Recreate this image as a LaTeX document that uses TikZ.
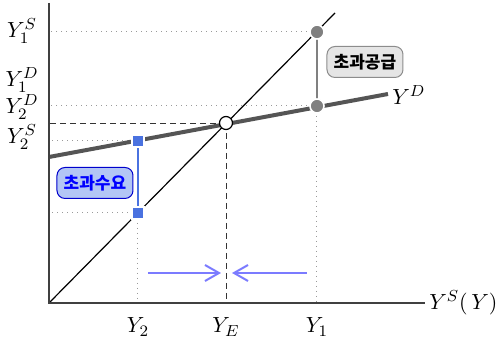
\documentclass[tikz,border=0pt]{standalone}
\usepackage{fontspec}
\newfontfamily\krfont{Noto Sans CJK KR}
\usetikzlibrary{arrows.meta}
\definecolor{curvegray}{HTML}{555555}
\definecolor{dotgray}{HTML}{808080}
\definecolor{sqblue}{HTML}{4A72E0}
\definecolor{boxblue}{HTML}{B3C6F5}
\definecolor{arrblue}{HTML}{7B7BFF}
\tikzset{
  lab/.style={font=\fontsize{11}{13}\selectfont, inner sep=0pt},
  guide/.style={dotgray!80, dotted, line width=0.5pt},
  eqguide/.style={black!80, dashed, line width=0.4pt, dash pattern=on 3pt off 2pt},
  grayball/.style={circle, fill=dotgray, draw=white, line width=0.8pt, minimum size=7pt, inner sep=0pt},
  bluesq/.style={rectangle, fill=sqblue, draw=white, line width=0.6pt, minimum size=6pt, inner sep=0pt},
  tag/.style={rounded corners=4pt, line width=0.5pt, minimum width=38pt, minimum height=15.5pt,
    font=\krfont\bfseries\fontsize{8.5}{10}\selectfont},
  move/.style={arrblue, line width=1pt, -{Straight Barb[length=7pt,width=8pt]}}
}
\begin{document}
\begin{tikzpicture}[x=0.5pt,y=-0.5pt]
\useasboundingbox (0,0) rectangle (500,346);
% axes
\coordinate (O) at (49,303);
\coordinate (ytop) at (49,3);
\coordinate (xend) at (425,303);
% points
\coordinate (Dtop) at (335,13);
\coordinate (Dl) at (49,157);
\coordinate (Dr) at (388,94);
\coordinate (E) at (226,123);
\coordinate (A1) at (317,32);
\coordinate (B1) at (317,106);
\coordinate (A2) at (138,141);
\coordinate (B2) at (138,213);
% guides
\draw[guide] (A1) -- (A1 -| O);
\draw[guide] (B1) -- (B1 -| O);
\draw[guide] (A2) -- (A2 -| O);
\draw[guide] (B2) -- (B2 -| O);
\draw[guide] (B1) -- (B1 |- O);
\draw[guide] (B2) -- (B2 |- O);
\draw[eqguide] (E) -- (E -| O);
\draw[eqguide] (E) -- (E |- O);
% curves
\draw[line width=0.6pt] (O) -- (Dtop);
\draw[curvegray, line width=2pt] (Dl) -- (Dr);
\draw[black!75, line width=0.9pt] (ytop) -- (O) -- (xend);
% gaps
\draw[dotgray, line width=1.3pt] (A1) -- (B1);
\draw[sqblue, line width=1.3pt] (A2) -- (B2);
\node[grayball] (a1) at (A1) {};
\node[grayball] (b1) at (B1) {};
\node[bluesq] (a2) at (A2) {};
\node[bluesq] (b2) at (B2) {};
\node[circle, fill=white, draw=black, line width=0.6pt, minimum size=6.5pt, inner sep=0pt] (e) at (E) {};
% tags
\node[tag, fill=black!10, draw=black!45] (supply) at (365,62) {초과공급};
\node[tag, fill=boxblue, draw=blue!80!black, text=blue] (demand) at (95,183) {초과수요};
% movement
\coordinate (m1) at (148,273);
\coordinate (m2) at (221,273);
\coordinate (m3) at (307,273);
\coordinate (m4) at (232,273);
\draw[move] (m1) -- (m2);
\draw[move] (m3) -- (m4);
% labels
\node[lab, anchor=west] (xlab) at (429,303) {$Y^S(\,Y)$};
\node[lab, anchor=west] (ydlab) at (392,95) {$Y^D$};
\node[lab] (y1s) at (22,31) {$Y_1^S$};
\node[lab] (y1d) at (22,80) {$Y_1^D$};
\node[lab] (y2d) at (22,107) {$Y_2^D$};
\node[lab] (y2s) at (22,137) {$Y_2^S$};
\node[lab] (y2) at (138,327) {$Y_2$};
\node[lab] (ye) at (226,327) {$Y_E$};
\node[lab] (y1) at (317,327) {$Y_1$};
\end{tikzpicture}
\end{document}
